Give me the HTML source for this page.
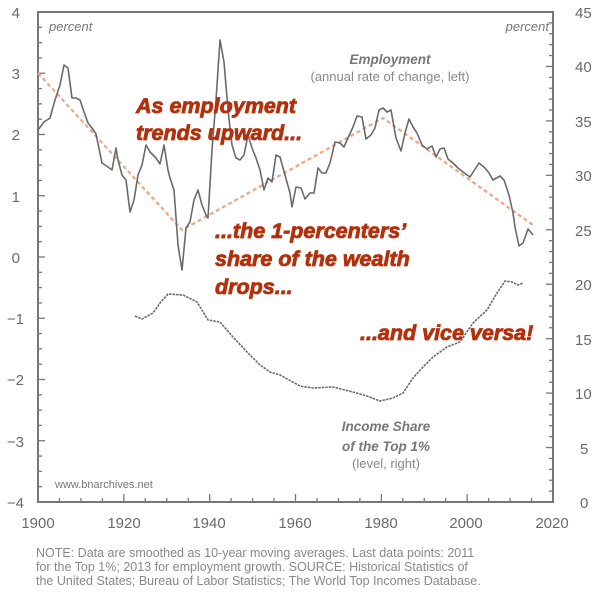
<!DOCTYPE html>
<html><head><meta charset="utf-8"><style>
html,body{margin:0;padding:0;background:#fff;}
svg{display:block;font-family:"Liberation Sans",sans-serif;}
.ann{font-weight:bold;font-style:italic;fill:#b3300c;stroke:#b3300c;stroke-width:0.8;font-size:21.5px;}
</style></head><body>
<svg id="s" width="600" height="600" viewBox="0 0 600 600">
<rect x="38" y="12" width="515" height="490" fill="none" stroke="#777" stroke-width="2"/>
<g id="ticks" stroke="#777" stroke-width="1.3"></g>
<g font-size="15" fill="#6a6a6a" text-anchor="end">
<text x="20" y="18">4</text><text x="20" y="79">3</text><text x="20" y="140">2</text><text x="20" y="202">1</text><text x="20" y="263">0</text>
<text x="24" y="324">−1</text><text x="24" y="385">−2</text><text x="24" y="447">−3</text><text x="24" y="508">−4</text>
</g>
<g font-size="15" fill="#6a6a6a" text-anchor="start">
<text x="575" y="18">45</text><text x="575" y="72">40</text><text x="575" y="127">35</text><text x="575" y="181">30</text><text x="575" y="236">25</text>
<text x="575" y="290">20</text><text x="575" y="345">15</text><text x="575" y="399">10</text><text x="580" y="454">5</text><text x="580" y="508">0</text>
</g>
<g font-size="15" fill="#6a6a6a" text-anchor="middle">
<text x="38" y="528">1900</text><text x="124" y="528">1920</text><text x="209" y="528">1940</text><text x="295" y="528">1960</text><text x="381" y="528">1980</text><text x="466" y="528">2000</text><text x="552" y="528">2020</text>
</g>
<text x="49" y="31" font-size="13" font-style="italic" fill="#777">percent</text>
<text x="549" y="31" font-size="13" font-style="italic" fill="#777" text-anchor="end">percent</text>
<text x="390" y="64" font-size="13.5" font-weight="bold" font-style="italic" fill="#777" text-anchor="middle">Employment</text>
<text x="390" y="81" font-size="13" fill="#888" text-anchor="middle">(annual rate of change, left)</text>
<text x="386" y="431" font-size="13.5" font-weight="bold" font-style="italic" fill="#777" text-anchor="middle">Income Share</text>
<text x="386" y="451" font-size="13.5" font-weight="bold" font-style="italic" fill="#777" text-anchor="middle">of the Top 1%</text>
<text x="386" y="468" font-size="13" fill="#888" text-anchor="middle">(level, right)</text>
<text x="55" y="488" font-size="11" fill="#777">www.bnarchives.net</text>
<polyline fill="none" stroke="#eea582" stroke-width="2.2" stroke-dasharray="4,3" points="38,73 182,230 383,118 533,225"/>
<polyline fill="none" stroke="#6a6a6a" stroke-width="1.6" stroke-linejoin="round" points="38,130 44,122 50,118 55,100 60,85 64,65 68,68 72,98 76,98 80,100 84,112 88,123 92,128 96,134 102,163 108,167 112,170 116,148 118,160 122,175 126,180 130,212 134,200 138,175 142,165 146,145 150,152 156,158 160,164 164,145 168,170 170,178 174,190 178,245 182,270 186,228 190,222 194,200 198,190 202,205 206,215 208,218 212,150 216,100 220,40 224,62 228,110 232,145 236,158 240,160 244,155 248,135 252,148 256,158 260,170 264,190 268,178 272,182 276,155 280,157 290,193 292,207 296,187 301,188 305,199 310,193 314,193 318,168 322,173 326,173 330,163 335,142 340,143 344,147 348,138 353,127 357,116 362,117 366,139 371,135 375,128 379,110 383,108 387,112 391,110 396,138 401,151 405,133 409,119 413,127 417,133 422,145 427,149 432,146 436,157 440,149 444,148 448,159 453,163 458,168 463,172 470,177 479,163 485,168 489,173 493,180 500,176 504,180 509,195 513,213 515,227 519,246 523,243 528,229 533,235"/>
<polyline fill="none" stroke="#6a6a6a" stroke-width="1.6" stroke-dasharray="2.5,1" points="135,316 142,319 153,313 160,303 168,294 183,295 197,302 208,320 220,322 233,337 247,352 260,365 270,372 280,375 300,386 313,388 333,387 353,392 367,396 380,401 393,398 403,393 413,378 423,367 433,357 447,347 460,342 473,323 487,310 497,293 505,281 512,282 518,285 523,283"/>
<text class="ann" x="136" y="113">As employment</text>
<text class="ann" x="136" y="140">trends upward...</text>
<text class="ann" x="215" y="238">...the 1-percenters’</text>
<text class="ann" x="215" y="266">share of the wealth</text>
<text class="ann" x="215" y="294">drops...</text>
<text class="ann" x="360" y="340">...and vice versa!</text>
<g font-size="12.5" fill="#888">
<text x="36" y="557">NOTE: Data are smoothed as 10-year moving averages. Last data points: 2011</text>
<text x="36" y="571">for the Top 1%; 2013 for employment growth. SOURCE: Historical Statistics of</text>
<text x="36" y="585">the United States; Bureau of Labor Statistics; The World Top Incomes Database.</text>
</g>
</svg>
<script>
var g=document.getElementById('ticks'),h='';
for(var i=0;i<=32;i++){var y=12+i*490/32,l=(i%4==0)?7:4;h+='<line x1="38" y1="'+y+'" x2="'+(38+l)+'" y2="'+y+'"/>';}
for(var i=0;i<=45;i++){var y=502-i*490/45,l=(i%5==0)?7:4;h+='<line x1="553" y1="'+y+'" x2="'+(553-l)+'" y2="'+y+'"/>';}
for(var i=0;i<=24;i++){var x=38+i*515/24,l=(i%4==0)?8:4;h+='<line x1="'+x+'" y1="502" x2="'+x+'" y2="'+(502-l)+'"/>';}
g.innerHTML=h;
</script>
</body></html>
